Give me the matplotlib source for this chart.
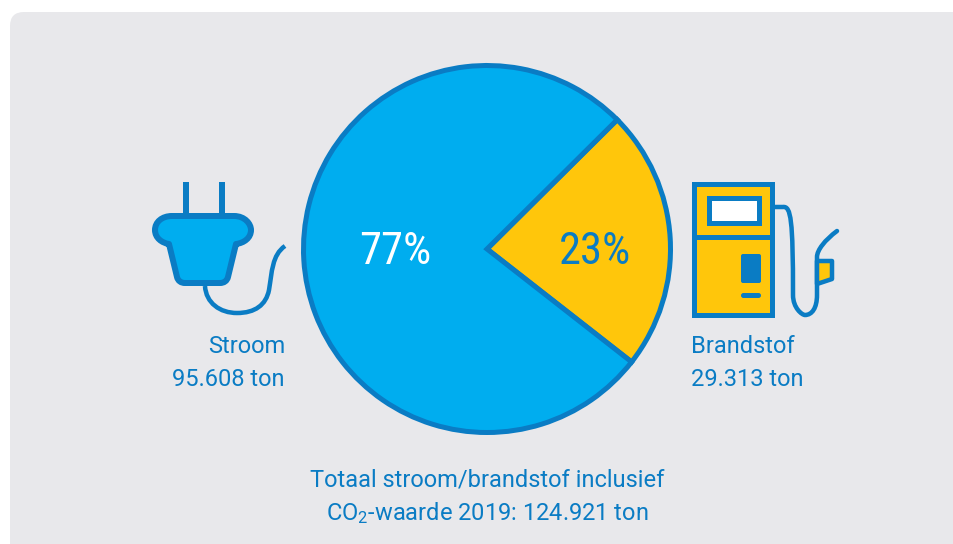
import matplotlib
matplotlib.use('Agg')
import matplotlib.pyplot as plt
from matplotlib.patches import FancyBboxPatch, PathPatch, Rectangle
from matplotlib.path import Path

plt.rcParams['font.family'] = ['Roboto', 'DejaVu Sans']
plt.rcParams['mathtext.fontset'] = 'custom'
plt.rcParams['mathtext.rm'] = 'Roboto'
plt.rcParams['mathtext.default'] = 'rm'

# Data
shares = [23, 77]
share_labels = ['23%', '77%']
left_label = ['Stroom', '95.608 ton']
right_label = ['Brandstof', '29.313 ton']
total_label = ['Totaal stroom/brandstof inclusief', 'CO$_2$-waarde 2019: 124.921 ton']

W, H = 954, 544
BLUE = '#0a7cc4'
SKY = '#00adef'
YELLOW = '#ffc60b'
PANEL = '#e8e8eb'
PX = 72 / 100  # points per pixel

fig = plt.figure(figsize=(W / 100, H / 100), dpi=100, facecolor='white')
ax = fig.add_axes([0, 0, 1, 1])
ax.set_xlim(0, W)
ax.set_ylim(H, 0)
ax.axis('off')

# grey panel runs off the right and bottom edge
ax.add_patch(FancyBboxPatch((10, 12), 1100, 700, boxstyle='round,pad=0,rounding_size=14',
                            fc=PANEL, ec='none', mutation_aspect=1))


def stroke(points, codes, fc='none', lw=5, cap='round', join='round', z=3):
    ax.add_patch(PathPatch(Path(points, codes), fc=fc, ec=BLUE, lw=lw * PX,
                           capstyle=cap, joinstyle=join, zorder=z))


M, L, C, Z = Path.MOVETO, Path.LINETO, Path.CURVE4, Path.CLOSEPOLY

# pie in its own square axes
cx, cy, r = 487, 249, 183.5
box = r * 1.25
pie_ax = fig.add_axes([(cx - r) / W, 1 - (cy + r) / H, 2 * r / W, 2 * r / H])
pie_ax.pie(shares, colors=[YELLOW, SKY], startangle=-38, counterclock=True, radius=1,
           wedgeprops={'edgecolor': BLUE, 'linewidth': 5 * PX, 'joinstyle': 'miter'})
pie_ax.set_xlim(-1, 1)
pie_ax.set_ylim(-1, 1)
for a in pie_ax.patches:
    a.set_clip_on(False)

narrow = ['Liberation Sans Narrow', 'Roboto Condensed', 'Roboto', 'DejaVu Sans']
ax.set_zorder(0)
pie_ax.set_zorder(1)
pie_ax.text((395 - cx) / r, (cy - 252) / r, share_labels[1], color='white', fontsize=32,
            family=narrow, ha='center', va='center')
pie_ax.text((595 - cx) / r, (cy - 252) / r, share_labels[0], color=BLUE, fontsize=32,
            family=narrow, ha='center', va='center')

# plug
for x in (186, 222.5):
    stroke([(x, 182), (x, 215)], [M, L], lw=6, cap='butt')
stroke([(172, 216), (234, 216), (245, 216), (251, 224), (251, 230), (251, 238), (244, 243), (236, 244),
        (228, 277), (227, 281), (224, 283), (220, 283), (185, 283), (181, 283), (178, 281), (177, 277),
        (169, 244), (162, 243), (155, 238), (155, 230), (155, 222), (162, 216), (172, 216), (172, 216)],
       [M, L, C, C, C, C, C, C, L, C, C, C, L, C, C, C, L, C, C, C, C, C, C, Z], fc=SKY, lw=6)
stroke([(205, 286), (206, 303), (220, 313), (237, 313), (255, 313), (266, 305), (269, 290),
        (272, 272), (272, 255), (285, 246)], [M, C, C, C, C, C, C, C, C, C], lw=4.5, cap='butt')

# fuel pump
ax.add_patch(Rectangle((694.5, 183.5), 78, 131, fc=YELLOW, ec=BLUE, lw=5 * PX, zorder=3))
stroke([(694, 237), (773, 237)], [M, L], cap='butt')
ax.add_patch(Rectangle((709.5, 197.5), 50, 25, fc='white', ec=BLUE, lw=5 * PX, zorder=4))
ax.add_patch(FancyBboxPatch((741, 254), 20, 29, boxstyle='round,pad=0,rounding_size=2',
                            fc=BLUE, ec='none', zorder=4))
ax.add_patch(FancyBboxPatch((741, 293), 20, 5, boxstyle='round,pad=0,rounding_size=2.5',
                            fc=BLUE, ec='none', zorder=4))
stroke([(775, 207), (783, 207), (791, 206), (793, 220), (793, 295), (793, 308), (802, 315), (805, 315),
        (812, 315), (817, 308), (817, 295), (817, 257), (817, 250), (825, 240), (837, 231)],
       [M, L, C, C, L, C, C, C, C, C, L, L, C, C, C][:15], lw=4.5)
stroke([(817, 261), (832, 261), (832, 279), (817, 284), (817, 261)], [M, L, L, L, Z], fc=YELLOW, lw=4.5)

# labels
text_kw = dict(color=BLUE, fontsize=17, va='baseline', zorder=5)
ax.text(285, 353, left_label[0], ha='right', **text_kw)
ax.text(285, 386, left_label[1], ha='right', **text_kw)
ax.text(691, 353, right_label[0], ha='left', **text_kw)
ax.text(691, 386, right_label[1], ha='left', **text_kw)
ax.text(487, 486, total_label[0], ha='center', **text_kw)
ax.text(487, 520, total_label[1], ha='center', **text_kw)

fig.savefig('out.png', dpi=100)
